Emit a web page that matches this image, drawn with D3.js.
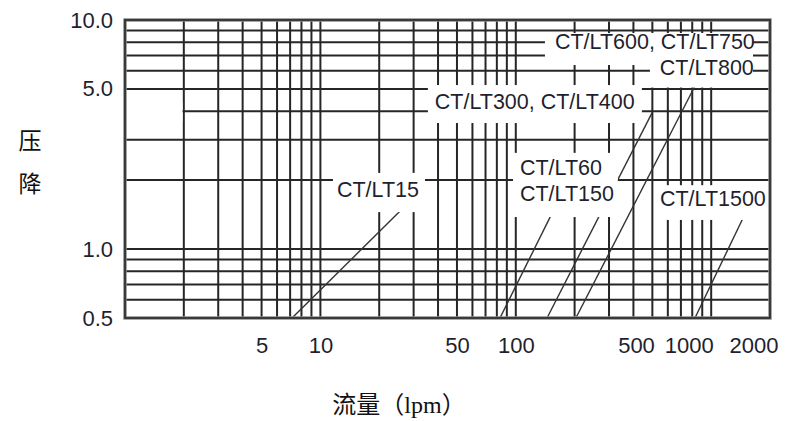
<!DOCTYPE html>
<html>
<head>
<meta charset="utf-8">
<script src="https://cdn.jsdelivr.net/npm/d3@7"></script>
<style>
  body { margin: 0; background: #fff; }
</style>
</head>
<body>
<script>
// DATA

// grid values (log-log paper)
const flowGrid = [1, 2, 3, 4, 5, 6, 7, 8, 9, 10, 20, 30, 40, 50, 60, 70, 80, 90, 100,
                  200, 300, 400, 500, 600, 700, 800, 900, 1000, 2000];
const dropGrid = [0.5, 0.6, 0.7, 0.8, 0.9, 1, 2, 3, 4, 5, 6, 7, 8, 9, 10];

// tick labels
const flowTicks = [5, 10, 50, 100, 500, 1000, 2000];
const dropTicks = [0.5, 1.0, 5.0, 10.0];

// curves: flow (lpm) / pressure drop, end points
const lt15Flow = [7.16, 30.5];
const lt15Drop = [0.5, 1.7];
const lt60Flow = [83, 175];
const lt60Drop = [0.5, 1.8];
const lt150Flow = [144.5, 498];
const lt150Drop = [0.5, 3.93];
const lt800Flow = [203, 859];
const lt800Drop = [0.5, 5.5];
const lt1500Flow = [826, 1592];
const lt1500Drop = [0.5, 1.6];

const curves = [
  {name: 'CT/LT15', flow: lt15Flow, drop: lt15Drop},
  {name: 'CT/LT60', flow: lt60Flow, drop: lt60Drop},
  {name: 'CT/LT150', flow: lt150Flow, drop: lt150Drop},
  {name: 'CT/LT800', flow: lt800Flow, drop: lt800Drop},
  {name: 'CT/LT1500', flow: lt1500Flow, drop: lt1500Drop}
];

// label boxes: white box hides the grid behind the text (flow / drop units)
const labels = [
  {text: 'CT/LT600, CT/LT750', at: [515, 8.1], anchor: 'middle', box: [141, 1637, 8.77, 6.36]},
  {text: 'CT/LT800', at: [950, 6.23], anchor: 'middle', box: [486, 1637, 8.77, 5.07]},
  {text: 'CT/LT300, CT/LT400', at: [125, 4.43], anchor: 'middle', box: [35.5, 442, 5.2, 3.55]},
  {text: 'CT/LT15', at: [19.7, 1.83], anchor: 'middle', box: [11.6, 34.3, 2.15, 1.45]},
  {text: 'CT/LT60', at: [105, 2.28], anchor: 'start', box: [96.8, 333, 2.63, 1.38]},
  {text: 'CT/LT150', at: [105, 1.756], anchor: 'start', box: null},
  {text: 'CT/LT1500', at: [1020, 1.67], anchor: 'middle', box: [534, 1954, 1.9, 1.34]},
  {text: '', at: null, anchor: null, box: [1, 1.97, 4.4, 3.6]}
];

// SETUP

const svg = d3.select('body')
              .append('svg')
              .attr('width', 785)
              .attr('height', 421)
              .style('background', '#fff');

const x = d3.scaleLog()
            .domain([1, 2000])
            .range([125, 770]);

const y = d3.scaleLog()
            .domain([0.5, 10])
            .range([318, 20]);

const ink = '#262626';

// grid lines
const grid = svg.append('g')
                .attr('stroke', ink)
                .attr('stroke-width', 2);

grid.selectAll('.v')
    .data(flowGrid)
    .enter().append('line')
    .attr('x1', d => x(d)).attr('x2', d => x(d))
    .attr('y1', y(10)).attr('y2', y(0.5));

grid.selectAll('.h')
    .data(dropGrid)
    .enter().append('line')
    .attr('y1', d => y(d)).attr('y2', d => y(d))
    .attr('x1', x(1)).attr('x2', x(2000));

// curves
const line = d3.line()
               .x(d => x(d[0]))
               .y(d => y(d[1]));

svg.append('g')
   .selectAll('path')
   .data(curves)
   .enter().append('path')
   .attr('d', c => line(c.flow.map((f, i) => [f, c.drop[i]])))
   .attr('fill', 'none')
   .attr('stroke', '#333')
   .attr('stroke-width', 1.4);

// white boxes behind labels
svg.append('g')
   .selectAll('rect')
   .data(labels.filter(l => l.box))
   .enter().append('rect')
   .attr('x', l => x(l.box[0]))
   .attr('width', l => x(l.box[1]) - x(l.box[0]))
   .attr('y', l => y(l.box[2]))
   .attr('height', l => y(l.box[3]) - y(l.box[2]))
   .attr('fill', '#fff');

// frame
svg.append('rect')
   .attr('x', x(1)).attr('y', y(10))
   .attr('width', x(2000) - x(1))
   .attr('height', y(0.5) - y(10))
   .attr('fill', 'none')
   .attr('stroke', '#8c8c8c')
   .attr('stroke-width', 3.5);
svg.append('rect')
   .attr('x', x(1)).attr('y', y(10))
   .attr('width', x(2000) - x(1))
   .attr('height', y(0.5) - y(10))
   .attr('fill', 'none')
   .attr('stroke', ink)
   .attr('stroke-width', 1.6);

// curve labels
svg.append('g')
   .selectAll('text')
   .data(labels.filter(l => l.text))
   .enter().append('text')
   .attr('transform', l => `translate(${x(l.at[0])}, ${y(l.at[1])}) scale(1, 1.06)`)
   .attr('dy', '0.36em')
   .attr('text-anchor', l => l.anchor)
   .style('font-family', '"Liberation Sans", Arial, sans-serif')
   .style('font-size', '21.5px')
   .style('fill', '#1f1f2e')
   .text(l => l.text);

// AXES

const axeY = d3.axisLeft(y)
               .tickValues(dropTicks)
               .tickFormat(d3.format('.1f'))
               .tickSize(0)
               .tickPadding(12);

const axeX = d3.axisBottom(x)
               .tickValues(flowTicks)
               .tickFormat(d3.format('d'))
               .tickSize(0)
               .tickPadding(19);

const groupeY = svg.append('g')
                   .attr('transform', `translate(${x(1)}, 0)`)
                   .call(axeY);
const groupeX = svg.append('g')
                   .attr('transform', `translate(0, ${y(0.5)})`)
                   .call(axeX);

[groupeX, groupeY].forEach(g => {
  g.select('.domain').remove();
  g.selectAll('text')
   .style('font-family', '"Liberation Sans", Arial, sans-serif')
   .style('font-size', '22px')
   .style('fill', '#1f1f2e');
});

// the last three flow labels are squeezed left of their lines
groupeX.selectAll('.tick text')
       .filter(d => d >= 500)
       .attr('text-anchor', 'end')
       .attr('dx', d => d === 2000 ? 8 : 2);

// titles
svg.append('g')
   .selectAll('text')
   .data(['压', '降'])
   .enter().append('text')
   .attr('x', 30)
   .attr('y', (d, i) => 139 + i * 43)
   .attr('dominant-baseline', 'central')
   .attr('text-anchor', 'middle')
   .style('font-family', '"Noto Sans CJK SC", sans-serif')
   .style('font-size', '23px')
   .style('fill', '#111')
   .text(d => d);

svg.append('text')
   .attr('x', 399)
   .attr('y', 405)
   .attr('dominant-baseline', 'central')
   .attr('text-anchor', 'middle')
   .style('font-family', '"Liberation Serif", "Noto Sans CJK SC", serif')
   .style('font-size', '24px')
   .style('fill', '#111')
   .text('流量（lpm）');
</script>
</body>
</html>
